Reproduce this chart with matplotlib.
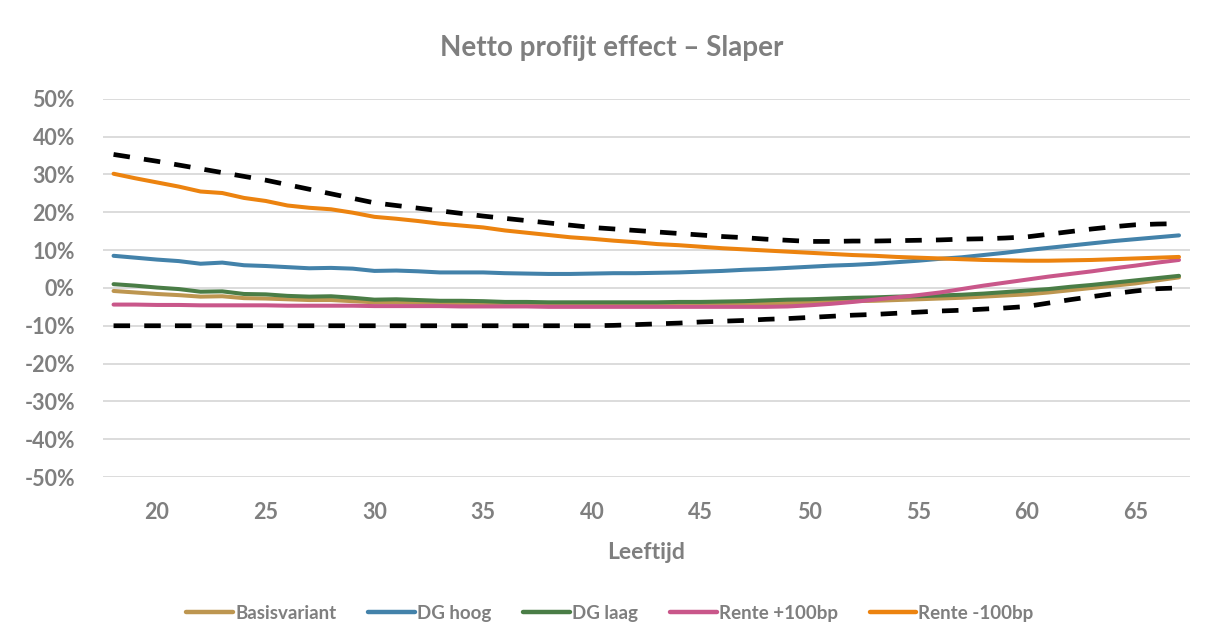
import matplotlib
matplotlib.use("Agg")
import matplotlib.pyplot as plt
from matplotlib.ticker import FuncFormatter

ages = list(range(18, 68))

basisvariant = [-0.8, -1.2, -1.6, -1.9, -2.3, -2.2, -2.7, -2.8, -3.0, -3.2,
                -3.2, -3.5, -3.8, -3.8, -3.9, -4.0, -4.0, -4.1, -4.2, -4.2,
                -4.3, -4.3, -4.3, -4.3, -4.3, -4.3, -4.3, -4.2, -4.2, -4.1,
                -4.0, -4.0, -3.9, -3.7, -3.5, -3.4, -3.2, -3.0, -2.8, -2.6,
                -2.3, -2.0, -1.7, -1.2, -0.6, 0.0, 0.6, 1.2, 2.0, 2.8]
dg_hoog = [8.5, 8.0, 7.5, 7.1, 6.4, 6.7, 6.0, 5.8, 5.5, 5.2,
           5.3, 5.1, 4.5, 4.6, 4.4, 4.1, 4.1, 4.1, 3.9, 3.8,
           3.7, 3.7, 3.8, 3.9, 3.9, 4.0, 4.1, 4.3, 4.5, 4.8,
           5.0, 5.3, 5.6, 5.9, 6.1, 6.4, 6.8, 7.2, 7.7, 8.1,
           8.7, 9.3, 10.0, 10.6, 11.2, 11.8, 12.4, 12.9, 13.4, 13.9]
dg_laag = [1.0, 0.6, 0.1, -0.3, -1.0, -0.9, -1.6, -1.7, -2.1, -2.3,
           -2.2, -2.6, -3.1, -3.0, -3.2, -3.4, -3.4, -3.5, -3.7, -3.7,
           -3.8, -3.8, -3.8, -3.8, -3.8, -3.8, -3.7, -3.7, -3.6, -3.5,
           -3.3, -3.1, -3.0, -2.8, -2.6, -2.5, -2.3, -2.2, -2.0, -1.8,
           -1.5, -1.1, -0.7, -0.3, 0.3, 0.8, 1.4, 2.0, 2.6, 3.2]
rente_plus = [-4.4, -4.4, -4.5, -4.5, -4.6, -4.6, -4.6, -4.6, -4.7, -4.7,
              -4.7, -4.7, -4.8, -4.8, -4.8, -4.8, -4.9, -4.9, -4.9, -4.9,
              -5.0, -5.0, -5.0, -5.0, -5.0, -5.0, -5.0, -5.0, -5.0, -5.0,
              -5.0, -4.9, -4.6, -4.2, -3.7, -3.1, -2.5, -1.9, -1.2, -0.3,
              0.6, 1.4, 2.2, 3.0, 3.7, 4.4, 5.2, 5.9, 6.7, 7.4]
rente_min = [30.2, 29.0, 27.9, 26.8, 25.5, 25.1, 23.8, 23.0, 21.8, 21.2,
             20.8, 19.9, 18.8, 18.3, 17.7, 17.0, 16.5, 16.0, 15.2, 14.6,
             14.0, 13.4, 13.0, 12.5, 12.1, 11.6, 11.3, 10.9, 10.5, 10.2,
             9.9, 9.6, 9.3, 9.0, 8.7, 8.5, 8.2, 8.0, 7.8, 7.6,
             7.4, 7.3, 7.2, 7.2, 7.3, 7.4, 7.6, 7.8, 8.0, 8.2]
bovengrens = [35.3, 34.4, 33.5, 32.5, 31.5, 30.5, 29.5, 28.5, 27.3, 26.1,
              24.9, 23.7, 22.5, 21.8, 21.1, 20.4, 19.7, 19.0, 18.4, 17.8,
              17.2, 16.6, 16.0, 15.6, 15.2, 14.8, 14.4, 14.0, 13.6, 13.3,
              12.9, 12.6, 12.3, 12.3, 12.4, 12.4, 12.5, 12.6, 12.7, 12.9,
              13.0, 13.2, 13.5, 14.2, 14.9, 15.6, 16.2, 16.7, 16.9, 17.0]
ondergrens = [-10.0] * 23 + [-9.9, -9.7, -9.5, -9.3, -9.0, -8.8, -8.6, -8.3, -8.1,
              -7.8, -7.5, -7.2, -7.0, -6.7, -6.4, -6.1, -5.9, -5.6, -5.3,
              -4.9, -4.0, -3.1, -2.3, -1.5, -0.8, -0.2, 0.0]

series_names = ["Basisvariant", "DG hoog", "DG laag", "Rente +100bp", "Rente -100bp"]
series_values = [basisvariant, dg_hoog, dg_laag, rente_plus, rente_min]
series_colors = ["#BD9650", "#4382AA", "#4A7D46", "#C9578A", "#EC830F"]

x_ticks = [20, 25, 30, 35, 40, 45, 50, 55, 60, 65]
y_ticks = [-50, -40, -30, -20, -10, 0, 10, 20, 30, 40, 50]

grey = "#7F7F7F"
plt.rcParams['font.family'] = ['Lato', 'DejaVu Sans']

fig = plt.figure(figsize=(12.08, 6.42), dpi=100)
ax = fig.add_axes([0.085, 0.257, 0.9, 0.589])

for name, vals, col in zip(series_names, series_values, series_colors):
    ax.plot(ages, [v / 100 for v in vals], color=col, lw=2.9, label=name,
            solid_capstyle='round', zorder=3)

for vals in (bovengrens, ondergrens):
    ax.plot(ages, [v / 100 for v in vals], color="black", lw=3.4,
            dashes=(3.5, 3.0), label='_nolegend_', zorder=4)

ax.set_xlim(17.5, 67.5)
ax.set_ylim(-0.5, 0.5)
ax.set_yticks([t / 100 for t in y_ticks])
ax.yaxis.set_major_formatter(FuncFormatter(lambda v, p: f"{round(v*100):d}%"))
ax.set_xticks(x_ticks)
ax.grid(axis='y', color="#D9D9D9", lw=1.3)
ax.set_axisbelow(True)
for s in ax.spines.values():
    s.set_visible(False)
ax.tick_params(length=0, colors=grey, labelsize=15.5)
ax.tick_params(axis='y', pad=20)
ax.tick_params(axis='x', pad=18)
for lbl in ax.get_xticklabels() + ax.get_yticklabels():
    lbl.set_fontweight('bold')

ax.set_xlabel("Leeftijd", color=grey, fontsize=16.5, fontweight='bold', labelpad=14)
fig.text(0.506, 0.925, "Netto profijt effect – Slaper", color=grey, fontsize=20,
         fontweight='bold', ha='center', va='center')

leg = fig.legend(loc='center', bbox_to_anchor=(0.505, 0.045), ncol=5,
                 frameon=False, fontsize=13.5, handlelength=2.5, handletextpad=0.1,
                 columnspacing=1.7)
for t in leg.get_texts():
    t.set_color(grey)
    t.set_fontweight('bold')
for h in leg.legend_handles:
    h.set_linewidth(3.2)

fig.savefig("out.png", dpi=100, facecolor="white")
